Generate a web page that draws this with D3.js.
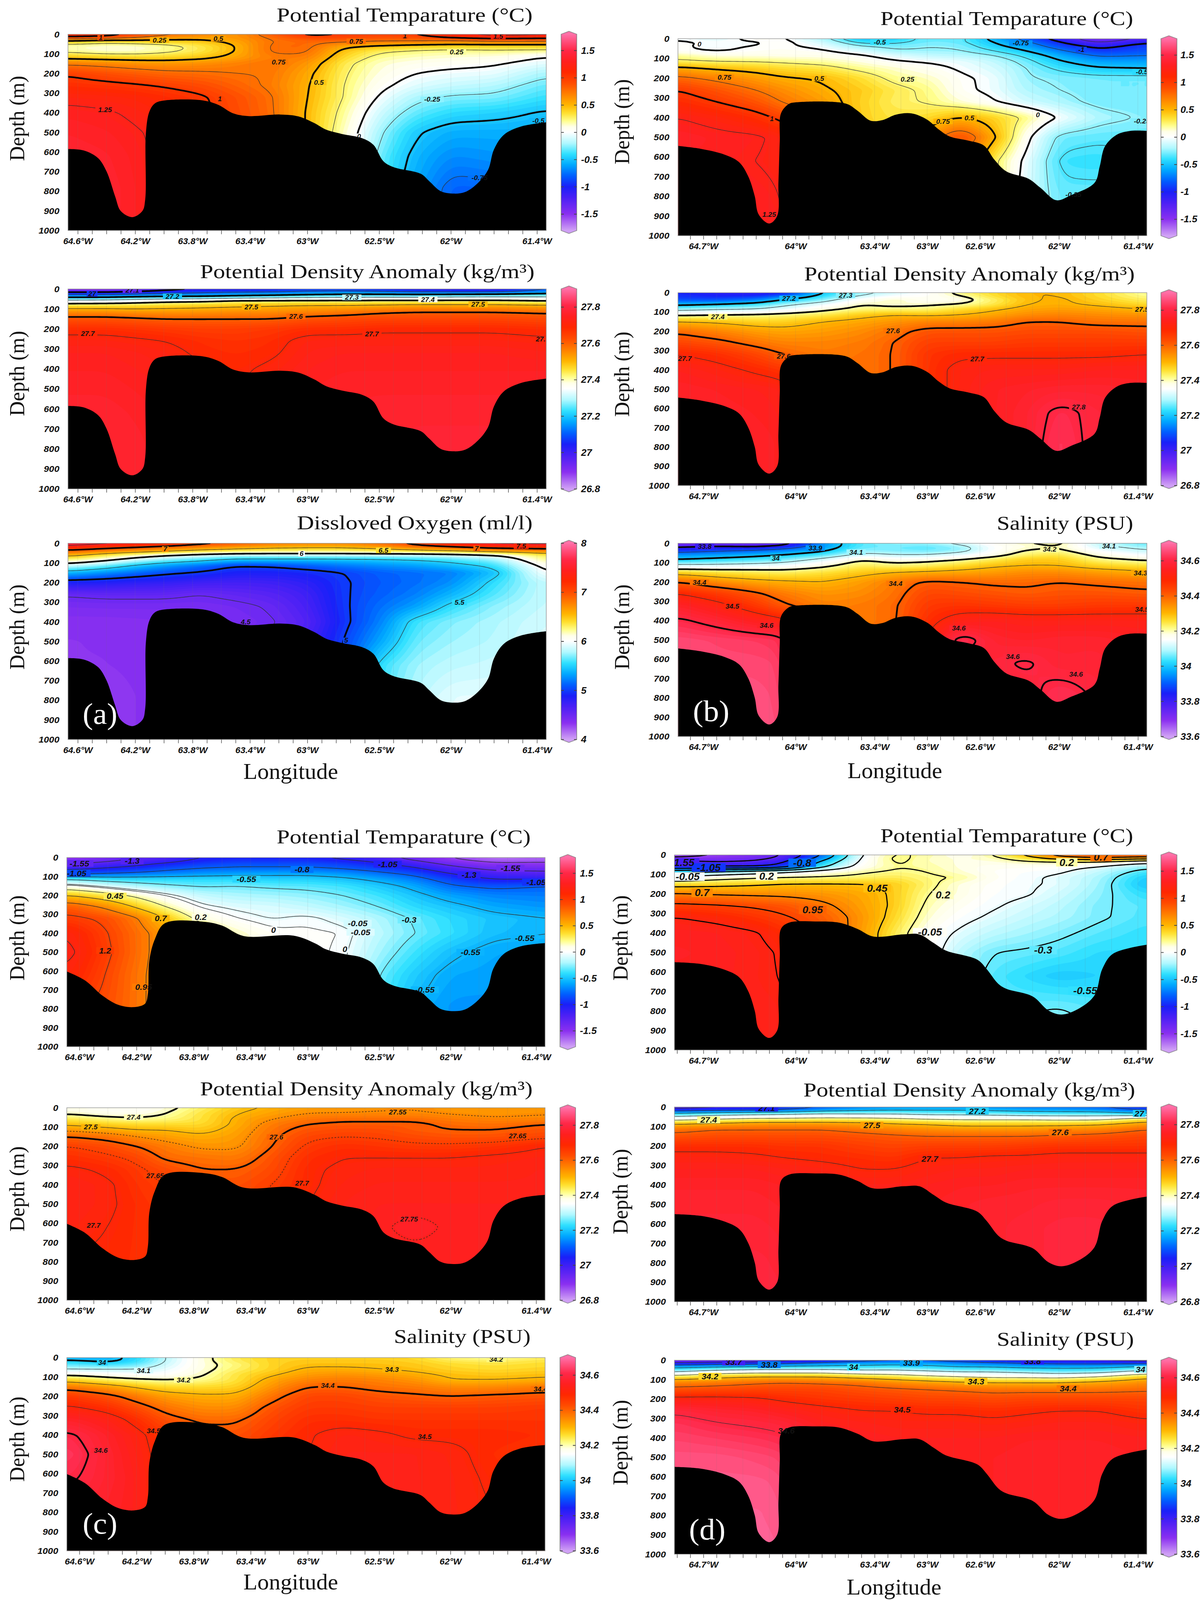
<!DOCTYPE html>
<html>
<head>
<meta charset="utf-8">
<script src="https://cdn.jsdelivr.net/npm/d3@7"></script>
<style>
  html, body { margin: 0; background: #fff; overflow: hidden; }
  svg { display: block; width: 100vw; height: 100vh; }
  text { fill: #111; }
  .serif { font-family: "Liberation Serif", serif; }
  .tick-font { font-family: "Liberation Sans", sans-serif; font-weight: bold; font-style: italic; }
</style>
</head>
<body>
<svg id="chart" viewBox="0 0 3071 4297" preserveAspectRatio="none"></svg>
<script>
// grid the sections were read on
var gridDepth = [0, 15, 35, 60, 85, 115, 150, 200, 260, 320, 400, 500, 620, 780, 950];
var gridLonAC = [64.67, 64.4, 64.2, 64, 63.75, 63.5, 63.25, 63, 62.75, 62.5, 62.25, 62, 61.7, 61.33];
var gridLonBD = [64.89, 64.6, 64.3, 64.1, 63.8, 63.5, 63.25, 63, 62.75, 62.5, 62.25, 62, 61.7, 61.33];

// sea floor
var floorLonA = [64.67,64.56,64.46,64.40,64.34,64.30,64.22,64.15,64.13,64.125,64.10,64.06,63.99,63.73,63.62,63.52,63.41,63.19,63.06,62.95,62.87,62.76,62.62,62.54,62.47,62.40,62.21,62.15,62.07,61.98,61.90,61.81,61.74,61.70,61.63,61.51,61.33];
var floorDepthA = [585,592,630,698,825,901,932,901,842,503,393,351,337,337,360,402,417,409,419,453,486,508,529,563,647,677,711,749,800,812,804,757,690,588,512,470,448];
var floorLonB = [64.89,64.72,64.54,64.43,64.36,64.31,64.28,64.20,64.14,64.13,64.12,64.11,64.05,64,63.62,63.53,63.43,63.34,63.24,63.12,63,62.91,62.83,62.69,62.57,62.49,62.40,62.23,62.14,62.02,61.91,61.73,61.69,61.65,61.56,61.46,61.33];
var floorDepthB = [544,559,588,626,698,799,892,938,900,732,521,378,331,323,329,365,416,413,386,379,411,462,496,517,542,614,673,711,757,820,795,732,648,546,487,468,468];
var floorLonC = [64.69,64.56,64.44,64.33,64.22,64.14,64.12,64.11,64.07,64,63.72,63.60,63.45,63.1,62.95,62.87,62.76,62.62,62.54,62.47,62.40,62.21,62.15,62.07,61.98,61.90,61.81,61.74,61.70,61.63,61.51,61.33];
var floorDepthC = [602,650,729,778,791,773,720,545,430,347,340,360,415,413,453,486,508,529,563,647,677,711,749,800,812,804,757,690,588,512,470,452];
var floorLonD = [64.92,64.72,64.54,64.43,64.36,64.31,64.28,64.20,64.14,64.13,64.12,64.11,64.05,63.85,63.67,63.53,63.41,63.18,63.06,62.95,62.86,62.62,62.55,62.46,62.40,62.20,62.08,61.98,61.85,61.73,61.67,61.59,61.33];
var floorDepthD = [550,559,588,626,698,799,892,938,900,732,521,378,347,341,347,379,418,407,407,452,490,537,584,661,686,725,797,818,788,720,584,507,460];

// panel a
var tempA = [
 [1.15,1.1,0.95,0.8,0.7,0.6,0.85,1.05,1,0.95,1,1.2,1.35,1.3],
 [1,0.95,0.8,0.65,0.6,0.62,0.78,0.95,0.95,0.9,0.9,1.05,1.15,1.1],
 [0.45,0.35,0.4,0.42,0.44,0.56,0.75,0.8,0.8,0.75,0.75,0.7,0.75,0.75],
 [0.15,0.12,0.12,0.18,0.3,0.5,0.78,0.8,0.55,0.48,0.42,0.4,0.4,0.4],
 [0.2,0.12,0.13,0.2,0.3,0.5,0.78,0.78,0.45,0.28,0.23,0.2,0.22,0.2],
 [0.42,0.38,0.36,0.36,0.42,0.56,0.72,0.72,0.38,0.2,0.15,0.12,0.1,0],
 [0.72,0.68,0.64,0.62,0.65,0.7,0.76,0.62,0.3,0.13,0.07,0.05,0.02,-0.08],
 [0.98,0.9,0.85,0.8,0.78,0.75,0.74,0.55,0.27,0.1,0,-0.04,-0.06,-0.22],
 [1.08,1.05,1.02,0.98,0.92,0.82,0.72,0.52,0.25,0.05,-0.08,-0.14,-0.18,-0.32],
 [1.2,1.18,1.15,1.1,1.03,0.9,0.77,0.5,0.25,-0.02,-0.2,-0.27,-0.28,-0.4],
 [1.3,1.27,1.22,1.15,1.05,0.92,0.78,0.48,0.2,-0.12,-0.32,-0.42,-0.45,-0.52],
 [1.35,1.32,1.27,1.2,1.1,0.95,0.8,0.48,0.15,-0.22,-0.48,-0.58,-0.58,-0.58],
 [1.38,1.36,1.3,1.2,1.1,0.95,0.8,0.48,0.15,-0.3,-0.55,-0.68,-0.65,-0.6],
 [1.38,1.38,1.32,1.2,1.1,0.95,0.8,0.48,0.15,-0.35,-0.6,-0.8,-0.78,-0.65],
 [1.38,1.38,1.32,1.2,1.1,0.95,0.8,0.48,0.15,-0.35,-0.6,-0.85,-0.8,-0.65]
];
var densityA = [
 [26.85,26.85,26.9,26.95,27,27,27.02,27.05,27.05,27.03,27,26.98,26.97,27.1],
 [27,27,27.02,27.05,27.08,27.1,27.1,27.12,27.13,27.12,27.1,27.1,27.1,27.15],
 [27.15,27.15,27.17,27.18,27.18,27.2,27.22,27.24,27.25,27.26,27.26,27.27,27.28,27.28],
 [27.33,27.34,27.36,27.38,27.39,27.42,27.42,27.42,27.42,27.42,27.42,27.42,27.42,27.4],
 [27.46,27.46,27.46,27.47,27.48,27.49,27.5,27.51,27.51,27.52,27.53,27.53,27.53,27.52],
 [27.55,27.55,27.54,27.54,27.54,27.55,27.55,27.56,27.57,27.59,27.6,27.6,27.6,27.59],
 [27.62,27.62,27.61,27.6,27.6,27.6,27.6,27.62,27.63,27.64,27.64,27.64,27.64,27.63],
 [27.68,27.68,27.67,27.66,27.65,27.65,27.66,27.68,27.68,27.69,27.69,27.69,27.69,27.68],
 [27.72,27.72,27.71,27.7,27.68,27.67,27.68,27.72,27.72,27.72,27.72,27.72,27.72,27.71],
 [27.74,27.74,27.73,27.72,27.69,27.68,27.69,27.73,27.74,27.74,27.74,27.74,27.74,27.73],
 [27.75,27.75,27.74,27.73,27.71,27.69,27.71,27.74,27.75,27.75,27.75,27.75,27.75,27.75],
 [27.76,27.76,27.75,27.74,27.72,27.7,27.72,27.75,27.76,27.76,27.76,27.76,27.76,27.76],
 [27.77,27.77,27.76,27.75,27.73,27.71,27.73,27.75,27.76,27.77,27.77,27.77,27.77,27.77],
 [27.77,27.77,27.77,27.75,27.73,27.71,27.73,27.75,27.76,27.77,27.78,27.78,27.78,27.77],
 [27.77,27.77,27.77,27.75,27.73,27.71,27.73,27.75,27.76,27.77,27.78,27.78,27.78,27.77]
];
var oxygenA = [
 [7.8,7.6,7.45,7.3,7.1,6.95,6.8,6.75,6.75,6.85,7.1,7.4,7.6,7.6],
 [7.4,7.2,7.1,7,6.85,6.75,6.65,6.6,6.6,6.7,6.9,7.05,7.25,7.3],
 [7,6.85,6.75,6.65,6.5,6.4,6.35,6.35,6.35,6.4,6.5,6.6,6.75,6.85],
 [6.6,6.35,6.2,6.05,5.92,5.85,5.85,5.85,5.85,5.85,5.85,5.88,6,6.35],
 [6.25,6.05,5.85,5.7,5.58,5.4,5.4,5.4,5.42,5.45,5.5,5.58,5.72,6.25],
 [5.85,5.65,5.45,5.3,5.15,5,5.02,5.1,5.18,5.25,5.3,5.4,5.55,6.1],
 [5.4,5.25,5.15,5.05,4.98,4.88,4.88,4.92,5,5.1,5.15,5.2,5.42,6.02],
 [4.88,4.85,4.8,4.78,4.72,4.7,4.72,4.8,4.98,5.08,5.15,5.25,5.55,5.85],
 [4.52,4.55,4.55,4.55,4.5,4.55,4.6,4.72,4.98,5.1,5.2,5.38,5.62,5.85],
 [4.42,4.43,4.43,4.43,4.43,4.46,4.52,4.68,4.97,5.15,5.3,5.55,5.72,5.85],
 [4.35,4.35,4.36,4.37,4.38,4.42,4.48,4.62,4.95,5.2,5.58,5.7,5.78,5.88],
 [4.33,4.34,4.35,4.38,4.4,4.45,4.52,4.7,5,5.32,5.66,5.75,5.8,5.9],
 [4.33,4.33,4.35,4.38,4.4,4.45,4.52,4.7,5,5.55,5.75,5.82,5.85,5.9],
 [4.3,4.3,4.33,4.38,4.4,4.45,4.52,4.7,5,5.6,5.8,5.92,5.92,5.9],
 [4.3,4.3,4.33,4.38,4.4,4.45,4.52,4.7,5,5.6,5.8,5.95,5.92,5.9]
];

// panel b
var tempB = [
 [-0.02,-0.1,0.08,0.02,-0.2,-0.52,-0.45,-0.3,-0.3,-0.55,-0.85,-1.1,-1.45,-1.2],
 [0.02,-0.02,-0.02,0.05,-0.12,-0.42,-0.4,-0.3,-0.32,-0.5,-0.72,-1,-1.3,-1.05],
 [0.01,-0.02,0,0.03,-0.05,-0.27,-0.3,-0.25,-0.27,-0.45,-0.62,-0.88,-1.1,-0.9],
 [0.02,-0.02,0.03,0.05,0.02,-0.1,-0.24,-0.24,-0.24,-0.35,-0.5,-0.72,-0.95,-0.85],
 [0.2,0.1,0.1,0.08,0.08,0.02,-0.08,-0.15,-0.18,-0.24,-0.38,-0.58,-0.78,-0.75],
 [0.28,0.25,0.24,0.22,0.18,0.1,0.02,-0.02,-0.05,-0.15,-0.3,-0.48,-0.62,-0.62],
 [0.55,0.47,0.42,0.36,0.32,0.2,0.13,0.06,-0.02,-0.1,-0.25,-0.38,-0.48,-0.5],
 [0.8,0.7,0.6,0.52,0.48,0.35,0.2,0.15,0.03,-0.04,-0.24,-0.27,-0.3,-0.3],
 [1,0.88,0.75,0.65,0.53,0.42,0.3,0.22,0.04,-0.04,-0.2,-0.25,-0.3,-0.3],
 [1.1,1,0.88,0.74,0.6,0.4,0.28,0.24,0.12,0.02,-0.12,-0.2,-0.29,-0.3],
 [1.25,1.18,1.08,0.95,0.7,0.4,0.32,0.36,0.52,0.4,0.22,-0.02,-0.2,-0.27],
 [1.35,1.3,1.28,1.2,0.9,0.4,0.4,0.6,0.95,0.55,0.05,-0.3,-0.33,-0.33],
 [1.3,1.3,1.25,1.2,0.9,0.4,0.4,0.6,0.8,0.3,-0.05,-0.38,-0.4,-0.33],
 [1.3,1.3,1.3,1.25,0.9,0.4,0.4,0.6,0.8,0.3,-0.1,-0.32,-0.32,-0.33],
 [1.3,1.3,1.3,1.3,0.9,0.4,0.4,0.6,0.8,0.3,-0.1,-0.3,-0.32,-0.33]
];
var densityB = [
 [27.05,27.02,27,27.02,27.2,27.28,27.32,27.35,27.42,27.46,27.5,27.5,27.46,27.4],
 [27.06,27.04,27.05,27.1,27.22,27.3,27.34,27.36,27.4,27.46,27.5,27.5,27.46,27.41],
 [27.08,27.08,27.12,27.2,27.26,27.36,27.4,27.36,27.37,27.43,27.49,27.51,27.47,27.43],
 [27.18,27.2,27.23,27.28,27.33,27.4,27.38,27.39,27.4,27.44,27.5,27.51,27.49,27.46],
 [27.27,27.29,27.3,27.33,27.38,27.42,27.42,27.42,27.46,27.49,27.52,27.53,27.52,27.5],
 [27.39,27.4,27.41,27.42,27.44,27.48,27.5,27.49,27.5,27.52,27.55,27.56,27.55,27.54],
 [27.5,27.49,27.47,27.47,27.5,27.52,27.54,27.56,27.56,27.57,27.6,27.6,27.58,27.58],
 [27.59,27.56,27.53,27.52,27.53,27.55,27.58,27.62,27.62,27.62,27.63,27.63,27.63,27.62],
 [27.64,27.62,27.58,27.56,27.56,27.57,27.6,27.65,27.65,27.65,27.66,27.66,27.66,27.66],
 [27.7,27.68,27.64,27.6,27.57,27.58,27.6,27.67,27.69,27.69,27.69,27.69,27.69,27.7],
 [27.74,27.72,27.69,27.67,27.6,27.58,27.6,27.67,27.72,27.73,27.73,27.73,27.74,27.74],
 [27.76,27.75,27.74,27.73,27.62,27.58,27.6,27.67,27.72,27.75,27.76,27.77,27.77,27.76],
 [27.77,27.76,27.75,27.74,27.62,27.58,27.6,27.67,27.72,27.75,27.77,27.815,27.785,27.77],
 [27.77,27.76,27.76,27.75,27.62,27.58,27.6,27.67,27.72,27.75,27.77,27.83,27.78,27.78],
 [27.77,27.76,27.76,27.75,27.62,27.58,27.6,27.67,27.72,27.75,27.77,27.83,27.78,27.78]
];
var salinityB = [
 [33.7,33.72,33.72,33.75,33.95,34.05,34.08,34.08,34.12,34.17,34.2,34.22,34.1,34.05],
 [33.78,33.8,33.78,33.82,33.95,34.05,34.06,34.05,34.08,34.15,34.18,34.2,34.11,34.07],
 [33.85,33.88,33.9,33.93,33.98,34.07,34.06,34.05,34.07,34.15,34.2,34.21,34.14,34.1],
 [33.95,33.96,33.98,34,34.04,34.12,34.1,34.1,34.13,34.17,34.23,34.25,34.18,34.14],
 [34,34.02,34.04,34.06,34.12,34.2,34.17,34.18,34.2,34.24,34.28,34.28,34.22,34.19],
 [34.12,34.12,34.13,34.14,34.18,34.24,34.22,34.23,34.26,34.29,34.3,34.3,34.27,34.25],
 [34.27,34.25,34.24,34.23,34.25,34.28,34.3,34.31,34.32,34.33,34.35,34.35,34.33,34.31],
 [34.4,34.35,34.32,34.31,34.3,34.33,34.37,34.41,34.4,34.39,34.39,34.4,34.39,34.38],
 [34.5,34.46,34.41,34.37,34.34,34.35,34.38,34.44,34.43,34.42,34.41,34.42,34.42,34.41],
 [34.56,34.52,34.46,34.41,34.36,34.37,34.39,34.46,34.47,34.46,34.45,34.45,34.46,34.46],
 [34.61,34.58,34.54,34.52,34.4,34.37,34.39,34.48,34.53,34.54,34.53,34.53,34.53,34.53],
 [34.65,34.64,34.63,34.62,34.42,34.38,34.4,34.5,34.63,34.57,34.56,34.57,34.57,34.55],
 [34.66,34.65,34.65,34.64,34.42,34.38,34.4,34.5,34.58,34.585,34.61,34.575,34.58,34.56],
 [34.66,34.66,34.66,34.65,34.42,34.38,34.4,34.5,34.58,34.58,34.58,34.625,34.59,34.56],
 [34.66,34.66,34.66,34.66,34.42,34.38,34.4,34.5,34.58,34.58,34.58,34.63,34.59,34.56]
];

// panel c
var tempC = [
 [-1.55,-1.4,-1.3,-1.2,-1.05,-1,-1,-1,-1.1,-1.2,-1.4,-1.55,-1.7,-1.65],
 [-1.45,-1.35,-1.25,-1.15,-1,-0.95,-0.95,-0.95,-1.02,-1.12,-1.3,-1.5,-1.62,-1.6],
 [-1.3,-1.2,-1.1,-1,-0.9,-0.85,-0.85,-0.85,-0.9,-1,-1.15,-1.35,-1.5,-1.5],
 [-1.1,-1,-0.95,-0.85,-0.78,-0.76,-0.76,-0.76,-0.8,-0.88,-1,-1.2,-1.35,-1.35],
 [-0.85,-0.8,-0.75,-0.7,-0.65,-0.62,-0.6,-0.6,-0.65,-0.75,-0.85,-1.05,-1.2,-1.25],
 [-0.3,-0.4,-0.42,-0.42,-0.42,-0.42,-0.45,-0.45,-0.5,-0.6,-0.72,-0.9,-1.05,-1.05],
 [0.05,-0.1,-0.2,-0.27,-0.32,-0.3,-0.33,-0.34,-0.38,-0.48,-0.6,-0.78,-0.85,-0.8],
 [0.45,0.3,0.15,0,-0.15,-0.2,-0.22,-0.25,-0.3,-0.38,-0.5,-0.62,-0.7,-0.72],
 [0.85,0.65,0.42,0.2,-0.02,-0.08,-0.1,-0.15,-0.22,-0.3,-0.42,-0.5,-0.6,-0.65],
 [1,0.9,0.72,0.45,0.12,0,-0.06,-0.02,-0.1,-0.2,-0.32,-0.42,-0.5,-0.55],
 [1.2,0.95,0.78,0.6,0.35,0.15,0.03,0.02,0,-0.17,-0.3,-0.4,-0.52,-0.55],
 [1.25,0.98,0.78,0.6,0.4,0.2,0.06,0.03,-0.02,-0.22,-0.38,-0.52,-0.6,-0.6],
 [1.18,0.93,0.75,0.6,0.4,0.2,0.06,0.03,-0.02,-0.3,-0.48,-0.6,-0.62,-0.6],
 [1,0.9,0.75,0.6,0.4,0.2,0.06,0.03,-0.02,-0.35,-0.55,-0.65,-0.65,-0.6],
 [1,0.9,0.75,0.6,0.4,0.2,0.06,0.03,-0.02,-0.35,-0.55,-0.65,-0.65,-0.6]
];
var densityC = [
 [27.38,27.36,27.36,27.38,27.43,27.48,27.51,27.53,27.53,27.54,27.55,27.54,27.53,27.53],
 [27.38,27.37,27.36,27.39,27.44,27.49,27.52,27.54,27.54,27.55,27.55,27.54,27.54,27.54],
 [27.4,27.38,27.38,27.4,27.45,27.5,27.53,27.555,27.56,27.56,27.56,27.55,27.54,27.55],
 [27.45,27.42,27.41,27.42,27.45,27.51,27.55,27.58,27.59,27.59,27.59,27.57,27.56,27.56],
 [27.49,27.47,27.46,27.46,27.46,27.51,27.57,27.6,27.61,27.61,27.61,27.59,27.58,27.6],
 [27.54,27.52,27.5,27.5,27.48,27.52,27.58,27.62,27.63,27.63,27.61,27.6,27.6,27.62],
 [27.6,27.58,27.55,27.53,27.51,27.53,27.59,27.64,27.65,27.645,27.63,27.62,27.62,27.64],
 [27.65,27.63,27.6,27.57,27.54,27.54,27.6,27.66,27.68,27.67,27.66,27.66,27.67,27.7],
 [27.68,27.66,27.64,27.59,27.58,27.57,27.62,27.68,27.7,27.7,27.7,27.7,27.71,27.72],
 [27.71,27.69,27.66,27.63,27.6,27.6,27.63,27.69,27.71,27.72,27.72,27.72,27.72,27.73],
 [27.73,27.71,27.67,27.65,27.63,27.62,27.65,27.69,27.72,27.73,27.73,27.73,27.73,27.73],
 [27.73,27.71,27.68,27.66,27.64,27.63,27.66,27.7,27.73,27.74,27.74,27.74,27.74,27.74],
 [27.72,27.7,27.68,27.66,27.64,27.63,27.66,27.7,27.73,27.745,27.76,27.745,27.74,27.74],
 [27.7,27.69,27.68,27.66,27.64,27.63,27.66,27.7,27.73,27.74,27.74,27.74,27.74,27.74],
 [27.7,27.69,27.68,27.66,27.64,27.63,27.66,27.7,27.73,27.74,27.74,27.74,27.74,27.74]
];
var salinityC = [
 [33.98,33.98,34.02,34.1,34.18,34.24,34.27,34.27,34.27,34.27,34.26,34.22,34.2,34.23],
 [34,33.98,34.02,34.1,34.18,34.24,34.27,34.28,34.28,34.28,34.27,34.24,34.23,34.25],
 [34.05,34.03,34.05,34.11,34.18,34.22,34.27,34.29,34.29,34.29,34.28,34.26,34.25,34.26],
 [34.1,34.1,34.1,34.13,34.18,34.23,34.27,34.31,34.31,34.3,34.29,34.27,34.26,34.27],
 [34.18,34.16,34.15,34.15,34.19,34.25,34.29,34.33,34.34,34.33,34.31,34.29,34.28,34.29],
 [34.27,34.23,34.21,34.2,34.21,34.25,34.32,34.36,34.37,34.36,34.34,34.3,34.3,34.31],
 [34.37,34.33,34.29,34.26,34.26,34.27,34.34,34.4,34.4,34.38,34.37,34.35,34.35,34.37],
 [34.46,34.42,34.37,34.33,34.31,34.31,34.38,34.44,34.44,34.42,34.41,34.4,34.41,34.42],
 [34.51,34.48,34.43,34.38,34.35,34.35,34.42,34.46,34.46,34.45,34.45,34.45,34.45,34.46],
 [34.56,34.53,34.48,34.42,34.39,34.39,34.44,34.48,34.48,34.47,34.47,34.47,34.47,34.47],
 [34.61,34.56,34.52,34.46,34.42,34.42,34.46,34.495,34.52,34.51,34.49,34.49,34.49,34.48],
 [34.63,34.57,34.53,34.47,34.43,34.43,34.47,34.5,34.53,34.53,34.53,34.515,34.48,34.47],
 [34.61,34.57,34.54,34.47,34.43,34.43,34.47,34.5,34.53,34.53,34.53,34.52,34.49,34.47],
 [34.58,34.56,34.54,34.47,34.43,34.43,34.47,34.5,34.53,34.53,34.53,34.52,34.5,34.47],
 [34.58,34.56,34.54,34.47,34.43,34.43,34.47,34.5,34.53,34.53,34.53,34.52,34.5,34.47]
];

// panel d
var tempD = [
 [-1.6,-1.55,-1.45,-1.3,-0.8,-0.05,0.22,0.18,0.05,0.2,0.5,0.8,0.95,0.9],
 [-1.55,-1.5,-1.4,-1.25,-0.7,-0.02,0.25,0.15,0.1,0.15,0.35,0.6,0.7,0.6],
 [-1.2,-1.3,-1.25,-1.1,-0.5,0,0.23,0.15,0.1,0.1,0.17,0.2,0.2,0.05],
 [-1.05,-1.05,-1.05,-0.95,-0.35,0.05,0.2,0.18,0.1,0.05,0.05,0.02,-0.05,-0.25],
 [-0.4,-0.3,-0.2,-0.1,0.05,0.17,0.22,0.2,0.12,0.03,0,-0.02,-0.15,-0.38],
 [0,0.1,0.17,0.2,0.22,0.25,0.3,0.22,0.2,0.05,-0.02,-0.08,-0.2,-0.48],
 [0.35,0.38,0.42,0.46,0.47,0.46,0.42,0.25,0.1,0.02,-0.03,-0.07,-0.22,-0.52],
 [0.72,0.68,0.66,0.65,0.62,0.55,0.42,0.2,0.1,0,-0.03,-0.12,-0.25,-0.42],
 [1,0.97,0.92,0.88,0.75,0.58,0.42,0.16,0.05,-0.03,-0.1,-0.17,-0.28,-0.35],
 [1.2,1.15,1.05,0.98,0.85,0.62,0.38,0.12,0,-0.08,-0.15,-0.2,-0.28,-0.36],
 [1.3,1.28,1.22,1.1,0.9,0.6,0.3,0.05,-0.08,-0.17,-0.22,-0.27,-0.34,-0.4],
 [1.32,1.3,1.25,1.18,0.9,0.6,0.3,0.05,-0.18,-0.3,-0.32,-0.35,-0.42,-0.42],
 [1.3,1.3,1.24,1.2,0.9,0.6,0.3,0.05,-0.2,-0.35,-0.42,-0.48,-0.45,-0.42],
 [1.3,1.3,1.25,1.25,0.9,0.6,0.3,0.05,-0.2,-0.35,-0.32,-0.3,-0.35,-0.42],
 [1.3,1.3,1.25,1.25,0.9,0.6,0.3,0.05,-0.2,-0.35,-0.25,-0.2,-0.3,-0.42]
];
var densityD = [
 [26.95,26.98,27,27.05,27.1,27.13,27.14,27.15,27.15,27.14,27.12,27.12,27.1,27.05],
 [27.05,27.07,27.08,27.1,27.15,27.18,27.19,27.19,27.19,27.18,27.17,27.16,27.15,27.08],
 [27.23,27.26,27.28,27.29,27.31,27.3,27.3,27.28,27.28,27.27,27.25,27.25,27.25,27.22],
 [27.36,27.39,27.41,27.41,27.42,27.42,27.41,27.39,27.38,27.38,27.38,27.37,27.37,27.44],
 [27.49,27.51,27.53,27.53,27.53,27.52,27.5,27.49,27.47,27.47,27.47,27.47,27.48,27.53],
 [27.58,27.6,27.6,27.6,27.6,27.58,27.56,27.55,27.54,27.54,27.54,27.55,27.56,27.6],
 [27.62,27.63,27.63,27.63,27.63,27.62,27.61,27.6,27.6,27.6,27.6,27.61,27.62,27.64],
 [27.68,27.68,27.68,27.67,27.67,27.65,27.64,27.65,27.65,27.65,27.66,27.67,27.67,27.67],
 [27.72,27.72,27.71,27.7,27.69,27.68,27.67,27.7,27.7,27.71,27.71,27.72,27.72,27.72],
 [27.74,27.74,27.74,27.73,27.72,27.7,27.7,27.72,27.73,27.73,27.74,27.74,27.74,27.74],
 [27.76,27.76,27.76,27.75,27.74,27.73,27.73,27.74,27.75,27.75,27.76,27.76,27.76,27.76],
 [27.77,27.77,27.77,27.76,27.75,27.74,27.74,27.75,27.76,27.77,27.77,27.78,27.78,27.77],
 [27.78,27.78,27.78,27.77,27.75,27.74,27.74,27.75,27.76,27.77,27.78,27.79,27.79,27.78],
 [27.78,27.78,27.79,27.78,27.75,27.74,27.74,27.75,27.76,27.77,27.78,27.79,27.79,27.78],
 [27.78,27.78,27.79,27.79,27.75,27.74,27.74,27.75,27.76,27.77,27.78,27.79,27.79,27.78]
];
var salinityD = [
 [33.7,33.7,33.72,33.76,33.8,33.86,33.88,33.88,33.85,33.82,33.8,33.78,33.78,33.75],
 [33.82,33.85,33.85,33.88,33.93,33.96,33.97,33.97,33.94,33.92,33.9,33.88,33.88,33.88],
 [33.98,34,34.02,34.03,34.03,34.03,34.04,34.02,34,34,33.98,33.98,33.98,34.02],
 [34.1,34.15,34.17,34.17,34.17,34.14,34.14,34.12,34.1,34.1,34.08,34.06,34.07,34.14],
 [34.24,34.28,34.3,34.3,34.3,34.27,34.25,34.22,34.2,34.18,34.18,34.17,34.2,34.28],
 [34.36,34.37,34.39,34.4,34.39,34.38,34.35,34.33,34.31,34.3,34.3,34.3,34.32,34.35],
 [34.42,34.43,34.44,34.44,34.44,34.42,34.41,34.4,34.39,34.38,34.38,34.38,34.38,34.39],
 [34.52,34.52,34.51,34.49,34.47,34.46,34.45,34.44,34.44,34.43,34.44,34.44,34.44,34.44],
 [34.59,34.57,34.56,34.54,34.52,34.5,34.5,34.49,34.49,34.48,34.49,34.5,34.5,34.47],
 [34.62,34.6,34.59,34.58,34.54,34.53,34.52,34.52,34.52,34.51,34.52,34.53,34.53,34.51],
 [34.64,34.63,34.62,34.61,34.56,34.55,34.54,34.54,34.54,34.54,34.55,34.55,34.55,34.54],
 [34.66,34.66,34.65,34.64,34.57,34.55,34.55,34.55,34.55,34.55,34.56,34.56,34.56,34.55],
 [34.67,34.67,34.67,34.66,34.57,34.55,34.55,34.55,34.55,34.55,34.56,34.56,34.56,34.55],
 [34.67,34.67,34.68,34.67,34.57,34.55,34.55,34.55,34.55,34.55,34.56,34.56,34.56,34.55],
 [34.67,34.67,34.68,34.68,34.57,34.55,34.55,34.55,34.55,34.55,34.56,34.56,34.56,34.55]
];

// contour labels: lon, depth, text
var labelsTempA = [[64.03,30,"0.25"],[63.62,23,"0.5"],[64.44,17,"1"],[62.32,8,"1"],[61.67,11,"1.5"],[62.66,36,"0.75"],[61.96,91,"0.25"],[63.2,141,"0.75"],[62.92,245,"0.5"],[64.41,385,"1.25"],[63.61,330,"1"],[62.13,332,"-0.25"],[62.64,520,"0"],[61.39,440,"-0.5"],[61.8,732,"-0.75"]];
var labelsDensityA = [[64.22,6,"27.1"],[64.5,24,"27"],[63.94,37,"27.2"],[62.69,42,"27.3"],[62.16,53,"27.4"],[63.39,90,"27.5"],[61.81,77,"27.5"],[63.08,137,"27.6"],[64.53,224,"27.7"],[62.55,225,"27.7"],[61.36,251,"27.7"]];
var labelsOxygenA = [[63.99,29,"7"],[61.82,26,"7"],[61.51,15,"7.5"],[62.47,36,"6.5"],[63.04,53,"6"],[62.73,495,"5"],[61.94,302,"5.5"],[63.43,401,"4.5"]];
var labelsTempB = [[64.73,28,"0"],[63.36,17,"-0.5"],[62.29,22,"-0.75"],[61.83,55,"-1"],[61.37,169,"-0.5"],[64.54,196,"0.75"],[63.82,202,"0.5"],[63.15,205,"0.25"],[64.18,407,"1"],[62.16,386,"0"],[62.68,403,"0.5"],[62.88,420,"0.75"],[61.37,418,"-0.25"],[64.2,892,"1.25"],[61.89,791,"-0.35"]];
var labelsDensityB = [[64.05,30,"27.2"],[63.62,14,"27.3"],[64.59,125,"27.4"],[61.37,87,"27.5"],[63.26,198,"27.6"],[64.09,330,"27.6"],[64.84,341,"27.7"],[62.62,344,"27.7"],[61.85,593,"27.8"]];
var labelsSalinityB = [[64.69,17,"33.8"],[63.85,25,"33.9"],[64.15,78,"34"],[63.54,46,"34.1"],[61.62,14,"34.1"],[62.07,31,"34.2"],[61.38,154,"34.3"],[64.73,202,"34.4"],[63.24,208,"34.4"],[64.48,326,"34.5"],[61.37,343,"34.5"],[64.22,425,"34.6"],[62.76,440,"34.6"],[62.35,587,"34.6"],[61.87,678,"34.6"]];
var labelsTempC = [[64.6,31,"-1.55"],[64.23,18,"-1.3"],[64.62,83,"-1.05"],[63.04,63,"-0.8"],[63.43,114,"-0.55"],[61.87,92,"-1.3"],[61.58,57,"-1.55"],[62.44,35,"-1.05"],[61.4,130,"-1.05"],[64.35,204,"0.45"],[64.03,321,"0.7"],[63.75,315,"0.2"],[62.29,330,"-0.3"],[61.48,426,"-0.55"],[62.65,347,"-0.05"],[62.63,395,"-0.05"],[63.24,382,"0"],[62.74,485,"0"],[64.42,492,"1.2"],[64.15,685,"0.95"],[61.86,501,"-0.55"],[62.18,699,"-0.55"]];
var labelsDensityC = [[64.22,49,"27.4"],[64.52,100,"27.5"],[62.37,22,"27.55"],[63.22,152,"27.6"],[61.53,147,"27.65"],[64.07,354,"27.65"],[64.5,611,"27.7"],[63.04,391,"27.7"],[62.29,578,"27.75"]];
var labelsSalinityC = [[64.44,26,"34"],[64.15,67,"34.1"],[63.87,116,"34.2"],[62.41,61,"34.3"],[62.86,145,"34.4"],[62.18,410,"34.5"],[64.45,481,"34.6"],[61.68,9,"34.2"],[61.37,162,"34.4"],[64.08,380,"34.5"]];
var labelsTempD = [[64.86,38,"-1.55"],[64.66,64,"-1.05"],[63.95,40,"-0.8"],[64.82,111,"-0.05"],[64.22,108,"0.2"],[63.38,170,"0.45"],[64.71,194,"0.7"],[63.87,281,"0.95"],[62.88,205,"0.2"],[62.98,396,"-0.05"],[62.12,488,"-0.3"],[61.8,695,"-0.55"],[61.94,38,"0.2"],[61.68,11,"0.7"]];
var labelsDensityD = [[64.22,5,"27.1"],[64.66,66,"27.4"],[63.42,93,"27.5"],[61.99,130,"27.6"],[62.98,266,"27.7"],[62.62,21,"27.2"],[61.39,33,"27"]];
var labelsSalinityD = [[64.47,9,"33.7"],[64.2,23,"33.8"],[63.56,35,"34"],[63.12,14,"33.9"],[62.2,5,"33.8"],[61.38,47,"34"],[64.65,83,"34.2"],[62.63,109,"34.3"],[61.93,147,"34.4"],[63.19,255,"34.5"],[64.07,364,"34.6"]];

// colour bars
var colorStops = [0,.083,.167,.222,.278,.333,.389,.444,.5,.528,.556,.597,.639,.694,.75,.806,.861,.917,1];
var colorValues = ["#cfa0f5","#8a30f0","#4a20f5","#1a20f8","#0060ff","#00a8ff","#30e0ff","#b0f8ff","#ffffff","#ffffe8","#ffff90","#ffe030","#ffb400","#ff8000","#ff4c00","#ff2800","#ff2020","#ff2848","#ff70a8"];
var ramp = d3.scaleLinear().domain(colorStops).range(colorValues);

var tempRange = [-1.8, 1.8], tempTicks = [-1.5,-1,-0.5,0,0.5,1,1.5];
var densityRange = [26.8, 27.9], densityTicks = [26.8,27,27.2,27.4,27.6,27.8];
var oxygenRange = [4, 8], oxygenTicks = [4,5,6,7,8];
var salinityRange = [33.6, 34.7], salinityTicks = [33.6,33.8,34,34.2,34.4,34.6];

var lonTicksAC = [64.6,64.2,63.8,63.4,63,62.5,62,61.4];
var lonTicksBD = [64.7,64,63.4,63,62.6,62,61.4];

var colA = {left: 174, right: 1398, lon: [64.668, 61.335], lons: gridLonAC, floorLon: floorLonA, floorDepth: floorDepthA, ticks: lonTicksAC, bar: 1436, labelX: 1487, depthX: 62};
var colB = {left: 1735, right: 2935, lon: [64.893, 61.332], lons: gridLonBD, floorLon: floorLonB, floorDepth: floorDepthB, ticks: lonTicksBD, bar: 2971, labelX: 3021, depthX: 1610};
var colC = {left: 171, right: 1395, lon: [64.688, 61.337], lons: gridLonAC, floorLon: floorLonC, floorDepth: floorDepthC, ticks: lonTicksAC, bar: 1433, labelX: 1484, depthX: 62};
var colD = {left: 1726, right: 2935, lon: [64.92, 61.332], lons: gridLonBD, floorLon: floorLonD, floorDepth: floorDepthD, ticks: lonTicksBD, bar: 2971, labelX: 3021, depthX: 1606};

var titleTemp = "Potential Temparature (°C)", titleDensity = "Potential Density Anomaly (kg/m³)";
var titleOxygen = "Dissloved Oxygen (ml/l)", titleSalinity = "Salinity (PSU)";

var panels = [
 {col: colA, top: 92, bottom: 619, field: tempA, range: tempRange, ticks: tempTicks, title: titleTemp, tx: [708,1363], ty: 58, dy: 318, labels: labelsTempA, labelSize: 18,
  thick: [-0.5,0,0.5,1], thin: [-0.75,-0.25,0.25,0.75,1.25]},
 {col: colA, top: 776, bottom: 1313, field: densityA, range: densityRange, ticks: densityTicks, title: titleDensity, tx: [512,1368], ty: 747, dy: 1003, labels: labelsDensityA, labelSize: 18,
  thick: [27,27.2,27.4,27.6], thin: [27.1,27.3,27.5,27.7]},
 {col: colA, top: 1459, bottom: 1986, field: oxygenA, range: oxygenRange, ticks: oxygenTicks, title: titleOxygen, tx: [760,1363], ty: 1421, dy: 1684, labels: labelsOxygenA, labelSize: 18,
  thick: [5,6,7], thin: [4.5,5.5,6.5,7.5], letter: "(a)", letterX: 256, letterY: 1944, xTitle: [744,2092]},
 {col: colB, top: 104, bottom: 633, field: tempB, range: tempRange, ticks: tempTicks, title: titleTemp, tx: [2253,2900], ty: 67, dy: 327, labels: labelsTempB, labelSize: 18,
  thick: [-1,-0.5,0,0.5,1], thin: [-1.25,-0.75,-0.35,-0.25,0.25,0.75,1.25]},
 {col: colB, top: 786, bottom: 1304, field: densityB, range: densityRange, ticks: densityTicks, title: titleDensity, tx: [2058,2904], ty: 753, dy: 1005, labels: labelsDensityB, labelSize: 18,
  thick: [27.2,27.4,27.6,27.8], thin: [27.3,27.5,27.7]},
 {col: colB, top: 1459, bottom: 1978, field: salinityB, range: salinityRange, ticks: salinityTicks, title: titleSalinity, tx: [2551,2900], ty: 1423, dy: 1684, labels: labelsSalinityB, labelSize: 18,
  thick: [33.8,34,34.2,34.4,34.6], thin: [33.9,34.1,34.3,34.5], letter: "(b)", letterX: 1820, letterY: 1937, xTitle: [2290,2090]},
 {col: colC, top: 2303, bottom: 2811, field: tempC, range: tempRange, ticks: tempTicks, title: titleTemp, tx: [708,1358], ty: 2265, dy: 2519, labels: labelsTempC, labelSize: 22,
  thick: [], thin: [-1.55,-1.3,-1.05,-0.8,-0.55,-0.3,-0.05,0,0.2,0.45,0.7,0.95,1.2], thinWidth: 2},
 {col: colC, top: 2975, bottom: 3492, field: densityC, range: densityRange, ticks: densityTicks, title: titleDensity, tx: [512,1363], ty: 2942, dy: 3193, labels: labelsDensityC, labelSize: 18,
  thick: [27.4,27.6], thin: [27.5,27.7], dashed: [27.55,27.65,27.75]},
 {col: colC, top: 3646, bottom: 4165, field: salinityC, range: salinityRange, ticks: salinityTicks, title: titleSalinity, tx: [1008,1358], ty: 3607, dy: 3865, labels: labelsSalinityC, labelSize: 18,
  thick: [34,34.2,34.4,34.6], thin: [34.1,34.3,34.5], letter: "(c)", letterX: 256, letterY: 4119, xTitle: [744,4269]},
 {col: colD, top: 2296, bottom: 2820, field: tempD, range: tempRange, ticks: tempTicks, title: titleTemp, tx: [2253,2900], ty: 2262, dy: 2519, labels: labelsTempD, labelSize: 27,
  thick: [-1.55,-1.3,-1.05,-0.8,-0.55,-0.3,-0.05,0.2,0.45,0.7,0.95,1.2], thin: [], thickWidth: 3},
 {col: colD, top: 2973, bottom: 3496, field: densityD, range: densityRange, ticks: densityTicks, title: titleDensity, tx: [2056,2905], ty: 2945, dy: 3200, labels: labelsDensityD, labelSize: 22,
  thick: [], thin: [27,27.1,27.2,27.3,27.4,27.5,27.6,27.7]},
 {col: colD, top: 3653, bottom: 4174, field: salinityD, range: salinityRange, ticks: salinityTicks, title: titleSalinity, tx: [2551,2902], ty: 3614, dy: 3874, labels: labelsSalinityD, labelSize: 22,
  thick: [], thin: [33.7,33.8,33.9,34,34.1,34.2,34.3,34.4,34.5,34.6], letter: "(d)", letterX: 1810, letterY: 4134, xTitle: [2288,4282]}
];

var svg = d3.select("#chart");
var NX = 200, NY = 200, FILL_LEVELS = 96;

function lonLabel(d) { return d + "°W"; }

function sectionSampler(p) {
    var colIndex = d3.scaleLinear().domain(p.col.lons).range(d3.range(p.col.lons.length)).clamp(true);
    var rowIndex = d3.scaleLinear().domain(gridDepth).range(d3.range(gridDepth.length)).clamp(true);

    return function (lon, depth) {
        var c = colIndex(lon), r = rowIndex(depth);
        var c0 = Math.min(Math.floor(c), p.col.lons.length - 2), r0 = Math.min(Math.floor(r), gridDepth.length - 2);
        var fc = c - c0, fr = r - r0;
        var top = p.field[r0][c0] * (1 - fc) + p.field[r0][c0 + 1] * fc;
        var low = p.field[r0 + 1][c0] * (1 - fc) + p.field[r0 + 1][c0 + 1] * fc;
        return top * (1 - fr) + low * fr;
    };
}

function drawColorBar(p, color) {
    var c = p.col, g = svg.append("g");
    var barWidth = c.right === 2935 ? 41 : 40;
    var y = d3.scaleLinear().domain(p.range).range([p.bottom, p.top]);
    var steps = d3.range(0, 240).map(function (i) { return p.range[0] + (p.range[1] - p.range[0]) * i / 240; });
    var step = (p.range[1] - p.range[0]) / 240;

    g.selectAll("rect.cb").data(steps).enter().append("rect")
        .attr("x", c.bar).attr("width", barWidth)
        .attr("y", function (d) { return y(d + step) - 0.5; })
        .attr("height", function (d) { return y(d) - y(d + step) + 1; })
        .attr("fill", function (d) { return color(d); });

    // pointed ends of the bar
    g.append("path")
        .attr("d", "M" + c.bar + "," + p.top + "L" + (c.bar + barWidth / 2) + "," + (p.top - 8) + "L" + (c.bar + barWidth) + "," + p.top + "Z")
        .attr("fill", color(p.range[1]));
    g.append("path")
        .attr("d", "M" + c.bar + "," + p.bottom + "L" + (c.bar + barWidth / 2) + "," + (p.bottom + 8) + "L" + (c.bar + barWidth) + "," + p.bottom + "Z")
        .attr("fill", color(p.range[0]));
    g.append("path")
        .attr("d", "M" + c.bar + "," + p.top + "L" + (c.bar + barWidth / 2) + "," + (p.top - 8) + "L" + (c.bar + barWidth) + "," + p.top + "V" + p.bottom + "L" + (c.bar + barWidth / 2) + "," + (p.bottom + 8) + "L" + c.bar + "," + p.bottom + "Z")
        .attr("fill", "none").attr("stroke", "#777").attr("stroke-opacity", 0.7).attr("stroke-width", 2);

    g.selectAll("line.tk").data(p.ticks).enter().append("path")
        .attr("d", function (d) { return "M" + c.bar + "," + y(d) + "h7M" + (c.bar + barWidth - 7) + "," + y(d) + "h7"; })
        .attr("stroke", "#444").attr("stroke-width", 2);

    var axis = d3.axisRight(y).tickValues(p.ticks).tickSize(0).tickPadding(0).tickFormat(function (d) { return String(d); });
    var ag = g.append("g").attr("transform", "translate(" + c.labelX + ",0)").call(axis);
    ag.select(".domain").remove();
    ag.selectAll("text").attr("class", "tick-font").attr("font-size", 25);
}

function drawPanel(p, idx) {
    var c = p.col;
    var x = d3.scaleLinear().domain(c.lon).range([c.left, c.right]);
    var y = d3.scaleLinear().domain([0, 1000]).range([p.top, p.bottom]);
    var color = d3.scaleLinear().domain(p.range).range([0, 1]);
    var colorOf = function (v) { return ramp(Math.max(0, Math.min(1, color(v)))); };
    var sample = sectionSampler(p);

    // resample the section to a fine grid for contouring
    var lonFine = d3.scaleLinear().domain([0, NX - 1]).range(c.lon);
    var depthFine = d3.scaleLinear().domain([0, NY - 1]).range([0, 1000]);
    var values = new Float64Array(NX * NY);
    for (var j = 0; j < NY; j++) {
        for (var i = 0; i < NX; i++) {
            values[j * NX + i] = sample(lonFine(i), depthFine(j));
        }
    }
    if (d3.blur2) d3.blur2({data: values, width: NX, height: NY}, 3, 1);

    var px = d3.scaleLinear().domain([0.5, NX - 0.5]).range([c.left, c.right]);
    var py = d3.scaleLinear().domain([0.5, NY - 0.5]).range([p.top, p.bottom]);
    var gridToScreen = d3.geoTransform({
        point: function (gx, gy) {
            var sx = gx < 0.25 ? c.left - 14 : gx > NX - 0.25 ? c.right + 14 : px(gx);
            var sy = gy < 0.25 ? p.top - 14 : gy > NY - 0.25 ? p.bottom + 14 : py(gy);
            this.stream.point(sx, sy);
        }
    });
    var path = d3.geoPath(gridToScreen);
    var contours = d3.contours().size([NX, NY]);

    var clipId = "clip" + idx;
    svg.append("clipPath").attr("id", clipId).append("rect")
        .attr("x", c.left).attr("y", p.top).attr("width", c.right - c.left).attr("height", p.bottom - p.top);
    var plot = svg.append("g").attr("clip-path", "url(#" + clipId + ")");

    // colour fill
    var span = p.range[1] - p.range[0];
    var levels = d3.range(0, FILL_LEVELS).map(function (i) { return p.range[0] + span * i / FILL_LEVELS; });
    plot.append("rect").attr("x", c.left).attr("y", p.top)
        .attr("width", c.right - c.left).attr("height", p.bottom - p.top)
        .attr("fill", colorOf(p.range[0]));
    plot.selectAll("path.band").data(contours.thresholds(levels)(values)).enter().append("path")
        .attr("d", path)
        .attr("fill", function (d) { return colorOf(d.value + span / FILL_LEVELS / 2); });

    // faint station lines
    plot.selectAll("line.station").data(d3.range(64.8, 61.3, -0.2)).enter().append("line")
        .attr("x1", x).attr("x2", x).attr("y1", p.top).attr("y2", p.bottom)
        .attr("stroke", "#777").attr("stroke-opacity", 0.14).attr("stroke-width", 1.5);

    // contour lines
    function lines(list, width, stroke, opacity, dash) {
        plot.selectAll(null).data(contours.thresholds(list)(values)).enter().append("path")
            .attr("d", path).attr("fill", "none")
            .attr("stroke", stroke).attr("stroke-opacity", opacity)
            .attr("stroke-width", width).attr("stroke-linejoin", "round")
            .attr("stroke-dasharray", dash);
    }
    lines(p.thin, p.thinWidth || 1.7, "#2b2f2f", 0.75, null);
    lines(p.dashed || [], 2, "#3a2a1a", 0.8, "4 4");
    lines(p.thick, p.thickWidth || 4.5, "#080808", 1, null);

    // contour labels, knocked out of the line with the local colour
    var labelG = plot.selectAll("g.clabel").data(p.labels).enter().append("g")
        .attr("transform", function (d) { return "translate(" + x(d[0]) + "," + y(d[1]) + ")"; });
    labelG.append("rect")
        .attr("x", function (d) { return -d[2].length * p.labelSize * 0.3 - 3; })
        .attr("width", function (d) { return d[2].length * p.labelSize * 0.6 + 6; })
        .attr("y", -p.labelSize * 0.42).attr("height", p.labelSize * 0.84)
        .attr("fill", function (d) { return colorOf(sample(d[0], d[1])); });

    // sea floor, over everything but the label text
    var floor = c.floorLon.map(function (lon, i) { return [lon, c.floorDepth[i]]; });
    var area = d3.area().curve(d3.curveCatmullRom.alpha(0.5))
        .x(function (d) { return x(d[0]); })
        .y0(p.bottom + 2)
        .y1(function (d) { return y(d[1]); });
    plot.append("path").datum(floor).attr("d", area).attr("fill", "#000");

    plot.selectAll("text.clabel").data(p.labels).enter().append("text")
        .attr("class", "tick-font").attr("text-anchor", "middle").attr("dy", "0.35em")
        .attr("x", function (d) { return x(d[0]); })
        .attr("y", function (d) { return y(d[1]); })
        .attr("font-size", p.labelSize)
        .text(function (d) { return d[2]; });

    svg.append("rect").attr("x", c.left).attr("y", p.top)
        .attr("width", c.right - c.left).attr("height", p.bottom - p.top)
        .attr("fill", "none").attr("stroke", "#999").attr("stroke-width", 1.5);

    // axes
    var minor = d3.range(64.9, 61.35, -0.1).filter(function (d) { return d <= c.lon[0] && d >= c.lon[1]; });
    var minorAxis = d3.axisBottom(x).tickValues(minor).tickSize(10).tickFormat("");
    var gMinor = svg.append("g").attr("transform", "translate(0," + p.bottom + ")").call(minorAxis);
    gMinor.select(".domain").remove();
    gMinor.selectAll("line").attr("stroke", "#555").attr("stroke-width", 1.5);

    var xAxis = d3.axisBottom(x).tickValues(c.ticks).tickSize(0).tickPadding(20).tickFormat(lonLabel);
    var gx = svg.append("g").attr("transform", "translate(0," + p.bottom + ")").call(xAxis);
    gx.select(".domain").remove();
    gx.selectAll("text").attr("class", "tick-font").attr("font-size", 23);

    var yAxis = d3.axisLeft(y).tickValues(d3.range(0, 1001, 100)).tickSize(0).tickPadding(22).tickFormat(function (d) { return String(d); });
    var gy = svg.append("g").attr("transform", "translate(" + c.left + ",0)").call(yAxis);
    gy.select(".domain").remove();
    gy.selectAll("text").attr("class", "tick-font").attr("font-size", 24);

    // titles
    svg.append("text").attr("class", "serif").attr("x", p.tx[0]).attr("y", p.ty)
        .attr("font-size", 54).attr("textLength", p.tx[1] - p.tx[0]).attr("lengthAdjust", "spacingAndGlyphs")
        .text(p.title);
    svg.append("text").attr("class", "serif").attr("text-anchor", "middle")
        .attr("transform", "translate(" + c.depthX + "," + p.dy + ") rotate(-90)")
        .attr("font-size", 55).attr("textLength", 229).attr("lengthAdjust", "spacingAndGlyphs")
        .text("Depth (m)");
    if (p.xTitle) {
        svg.append("text").attr("class", "serif").attr("text-anchor", "middle")
            .attr("x", p.xTitle[0]).attr("y", p.xTitle[1]).attr("font-size", 59).text("Longitude");
    }
    if (p.letter) {
        svg.append("text").attr("class", "serif").attr("text-anchor", "middle")
            .attr("x", p.letterX).attr("y", p.letterY).attr("font-size", 80)
            .style("fill", "#fff").text(p.letter);
    }

    drawColorBar(p, colorOf);
}

panels.forEach(drawPanel);
</script>
</body>
</html>
